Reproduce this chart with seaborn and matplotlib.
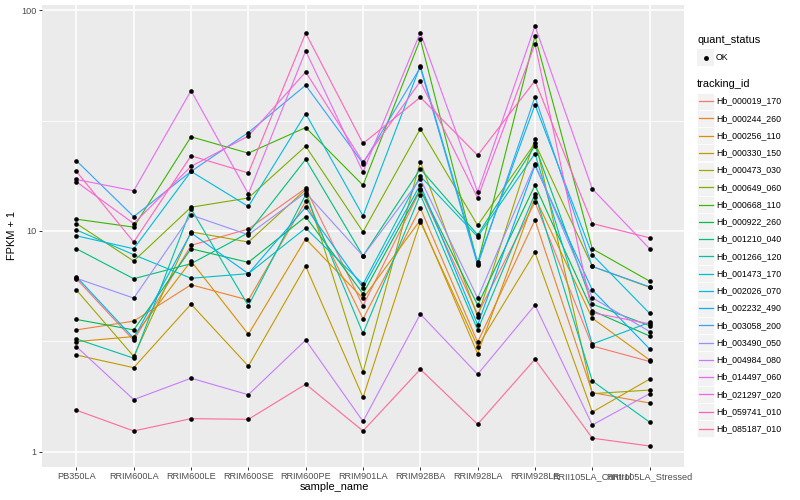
import math
import numpy as np
import pandas as pd
import matplotlib
matplotlib.use("Agg")
import matplotlib.pyplot as plt
import matplotlib.ticker as mticker
from matplotlib.patches import Rectangle
from matplotlib.lines import Line2D
import seaborn as sns

plt.rcParams['font.family'] = ['Liberation Sans', 'DejaVu Sans']

samples = ["PB350LA", "RRIM600LA", "RRIM600LE", "RRIM600SE", "RRIM600PE", "RRIM901LA",
           "RRIM928BA", "RRIM928LA", "RRIM928LE", "RRII105LA_Control", "RRII105LA_Stressed"]

tracking_ids = ["Hb_000019_170", "Hb_000244_260", "Hb_000256_110", "Hb_000330_150",
                "Hb_000473_030", "Hb_000649_060", "Hb_000668_110", "Hb_000922_260",
                "Hb_001210_040", "Hb_001266_120", "Hb_001473_170", "Hb_002026_070",
                "Hb_002232_490", "Hb_003058_200", "Hb_003490_050", "Hb_004984_080",
                "Hb_014497_060", "Hb_021297_020", "Hb_059741_010", "Hb_085187_010"]

Hb_000019_170 = [6.07, 3.19, 8.6, 10.2, 15.6, 4.58, 15.3, 4.2, 13.5, 3.01, 2.56]
Hb_000244_260 = [3.56, 3.9, 5.7, 4.86, 13.6, 3.99, 12.7, 3.13, 11.2, 1.85, 1.66]
Hb_000256_110 = [3.15, 3.32, 7.3, 3.4, 9.2, 4.94, 11.2, 2.78, 14.2, 4.02, 2.60]
Hb_000330_150 = [2.74, 2.40, 4.66, 2.44, 6.92, 1.76, 11.0, 2.99, 8.0, 1.51, 2.13]
Hb_000473_030 = [5.4, 2.70, 9.9, 8.9, 15.4, 2.29, 20.6, 4.09, 26.1, 1.83, 1.90]
Hb_000649_060 = [10.8, 7.3, 12.8, 14.1, 24.2, 9.9, 29.0, 10.6, 25.0, 6.9, 5.55]
Hb_000668_110 = [11.3, 10.4, 26.7, 22.5, 29.4, 16.1, 73.9, 7.1, 76.4, 8.3, 5.92]
Hb_000922_260 = [3.97, 3.56, 8.3, 7.2, 11.6, 5.19, 15.5, 4.61, 16.1, 4.35, 3.34]
Hb_001210_040 = [8.3, 6.07, 7.1, 9.8, 21.1, 7.7, 19.1, 9.6, 24.3, 4.66, 3.72]
Hb_001266_120 = [3.24, 2.65, 12.6, 4.58, 14.6, 3.43, 14.6, 3.56, 14.7, 2.09, 1.36]
Hb_001473_170 = [10.1, 7.8, 6.1, 6.4, 10.3, 5.74, 17.7, 9.4, 22.4, 3.07, 3.85]
Hb_002026_070 = [9.5, 8.3, 18.6, 12.9, 34.0, 11.7, 56.0, 7.2, 37.3, 7.8, 4.23]
Hb_002232_490 = [6.2, 3.26, 9.8, 6.4, 12.8, 5.53, 16.2, 3.75, 19.8, 5.4, 2.92]
Hb_003058_200 = [20.8, 11.6, 18.6, 27.9, 45.7, 20.2, 55.0, 7.0, 40.5, 6.9, 5.58]
Hb_003490_050 = [6.1, 4.96, 11.8, 9.6, 14.9, 7.7, 17.2, 4.96, 20.1, 4.98, 3.50]
Hb_004984_080 = [2.99, 1.72, 2.15, 1.81, 3.2, 1.37, 4.2, 2.24, 4.61, 1.32, 1.83]
Hb_014497_060 = [17.1, 15.2, 43.2, 14.7, 65.4, 18.5, 79.2, 15.0, 84.8, 15.5, 8.3]
Hb_021297_020 = [16.7, 10.8, 19.6, 26.9, 52.5, 20.5, 47.6, 14.1, 70.2, 4.26, 3.79]
Hb_059741_010 = [18.6, 8.9, 21.9, 18.3, 78.7, 24.9, 40.3, 22.0, 47.9, 10.8, 9.3]
Hb_085187_010 = [1.54, 1.24, 1.41, 1.40, 2.02, 1.24, 2.36, 1.33, 2.62, 1.15, 1.06]

series = [Hb_000019_170, Hb_000244_260, Hb_000256_110, Hb_000330_150, Hb_000473_030,
          Hb_000649_060, Hb_000668_110, Hb_000922_260, Hb_001210_040, Hb_001266_120,
          Hb_001473_170, Hb_002026_070, Hb_002232_490, Hb_003058_200, Hb_003490_050,
          Hb_004984_080, Hb_014497_060, Hb_021297_020, Hb_059741_010, Hb_085187_010]

rows = []
for tid, vals in zip(tracking_ids, series):
    for s, v in zip(samples, vals):
        rows.append({"tracking_id": tid, "sample_name": s, "FPKM": v, "quant_status": "OK"})
df = pd.DataFrame(rows)
df["sample_name"] = pd.Categorical(df["sample_name"], categories=samples, ordered=True)


def hcl_hex(h, c=100.0, l=65.0):
    hr = math.radians(h)
    u = c * math.cos(hr)
    v = c * math.sin(hr)
    Xn, Yn, Zn = 95.047, 100.0, 108.883
    un = 4 * Xn / (Xn + 15 * Yn + 3 * Zn)
    vn = 9 * Yn / (Xn + 15 * Yn + 3 * Zn)
    Y = Yn * ((l + 16) / 116) ** 3 if l > 8 else Yn * l / 903.3
    up = u / (13 * l) + un
    vp = v / (13 * l) + vn
    X = 9.0 * Y * up / (4 * vp)
    Z = -X / 3 - 5 * Y + 3 * Y / vp
    X, Y, Z = X / 100, Y / 100, Z / 100
    r = 3.240479 * X - 1.537150 * Y - 0.498535 * Z
    g = -0.969256 * X + 1.875992 * Y + 0.041556 * Z
    b = 0.055648 * X - 0.204043 * Y + 1.057311 * Z

    def gam(t):
        t = 1.055 * t ** (1 / 2.4) - 0.055 if t > 0.0031308 else 12.92 * t
        return min(max(t, 0.0), 1.0)
    return matplotlib.colors.to_hex((gam(r), gam(g), gam(b)))


n = len(tracking_ids)
hues = np.linspace(15, 375 - 360 / n, n)
colors = [hcl_hex(h) for h in hues]
palette = dict(zip(tracking_ids, colors))

W, H = 800, 500
fig = plt.figure(figsize=(8, 5), dpi=100)
left, right, top, bottom = 42, 684, 5, 467
ax = fig.add_axes([left / W, 1 - bottom / H, (right - left) / W, (bottom - top) / H])
ax.set_facecolor("#EBEBEB")
for sp in ax.spines.values():
    sp.set_visible(False)

sns.lineplot(data=df, x="sample_name", y="FPKM", hue="tracking_id", hue_order=tracking_ids,
             palette=palette, sort=False, estimator=None, legend=False, linewidth=0.8, ax=ax)
sns.scatterplot(data=df, x="sample_name", y="FPKM", color="black", s=11, linewidth=0,
                legend=False, ax=ax, zorder=3)

ax.set_yscale("log")
vmin, vmax = df["FPKM"].min(), df["FPKM"].max()
lo, hi = math.log10(vmin), math.log10(vmax)
pad = 0.05 * (hi - lo)
ax.set_ylim(10 ** (lo - pad), 10 ** (hi + pad))
ax.set_xlim(-0.6, len(samples) - 0.4)
ax.yaxis.set_major_locator(mticker.FixedLocator([1, 10, 100]))
ax.yaxis.set_major_formatter(mticker.FixedFormatter(["1", "10", "100"]))
ax.yaxis.set_minor_locator(mticker.FixedLocator([10 ** 0.5, 10 ** 1.5]))
ax.yaxis.set_minor_formatter(mticker.NullFormatter())
ax.set_xticks(range(len(samples)))
ax.set_xticklabels(samples)
ax.set_axisbelow(True)
ax.grid(which="major", color="white", linewidth=1.1)
ax.grid(which="minor", axis="y", color="white", linewidth=0.55)
ax.tick_params(which="major", length=2.2, width=0.7, color="#333333", labelcolor="#4D4D4D",
               labelsize=6.6, pad=1.5)
ax.tick_params(which="minor", length=0)
ax.set_xlabel("sample_name", fontsize=7.9, color="black")
ax.set_ylabel("FPKM + 1", fontsize=7.9, color="black")
ax.xaxis.set_label_coords((334 - left) / (right - left), -(487 - bottom) / (bottom - top),
                          transform=ax.transAxes)
ax.yaxis.set_label_coords(-(left - 12) / (right - left), 0.5)
ax.xaxis.label.set_va("center")
ax.yaxis.label.set_va("center")

# legend drawn in pixel coordinates
lax = fig.add_axes([0, 0, 1, 1], facecolor="none")
lax.set_xlim(0, W)
lax.set_ylim(H, 0)
lax.axis("off")
kx, kw = 697, 17
lax.text(kx, 40, "quant_status", fontsize=7.9, va="center", ha="left")
lax.add_patch(Rectangle((kx, 49), kw, kw, facecolor="#F2F2F2", edgecolor="none"))
lax.plot([kx + kw / 2], [57.5], marker="o", color="black", markersize=2.5, linestyle="none")
lax.text(716, 57.5, "OK", fontsize=6.3, va="center", ha="left")
lax.text(kx, 84, "tracking_id", fontsize=7.9, va="center", ha="left")
y0, dy = 101, 17.25
for i, tid in enumerate(tracking_ids):
    yc = y0 + i * dy
    lax.add_patch(Rectangle((kx, yc - kw / 2), kw, kw, facecolor="#F2F2F2", edgecolor="white",
                            linewidth=0.5))
    lax.add_line(Line2D([kx + 1.5, kx + kw - 1.5], [yc, yc], color=palette[tid], linewidth=0.9))
    lax.text(716, yc, tid, fontsize=6.3, va="center", ha="left")

fig.savefig("out.png", dpi=100)
